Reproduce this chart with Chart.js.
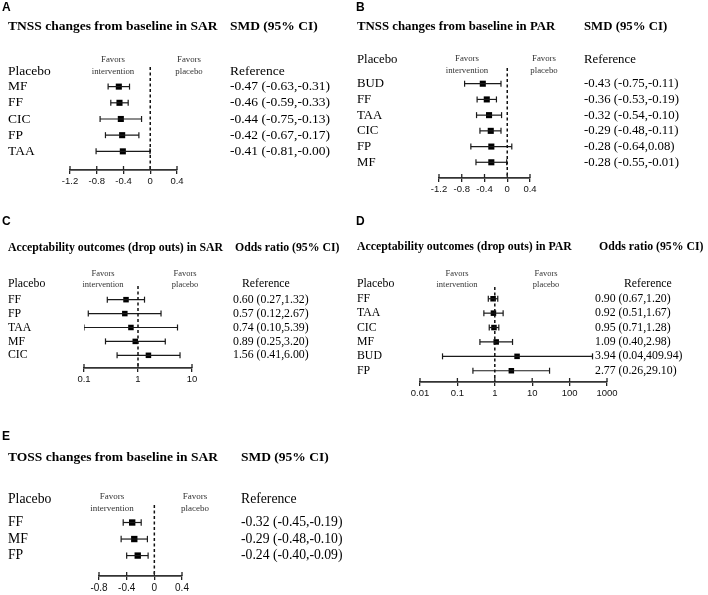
<!DOCTYPE html>
<html>
<head>
<meta charset="utf-8">
<script src="https://cdn.jsdelivr.net/npm/chart.js@4.4.1/dist/chart.umd.min.js"></script>
<style>
  html, body { margin: 0; padding: 0; background: #fff; overflow: hidden; }
  #page { position: relative; width: 708px; height: 595px; overflow: hidden; }
  .panel { position: absolute; }
</style>
</head>
<body>
<div id="page">
  <div class="panel" style="left:0;top:0;width:354px;height:215px"><canvas id="chartA"></canvas></div>
  <div class="panel" style="left:354px;top:0;width:354px;height:215px"><canvas id="chartB"></canvas></div>
  <div class="panel" style="left:0;top:215px;width:354px;height:205px"><canvas id="chartC"></canvas></div>
  <div class="panel" style="left:354px;top:215px;width:354px;height:205px"><canvas id="chartD"></canvas></div>
  <div class="panel" style="left:0;top:420px;width:354px;height:180px"><canvas id="chartE"></canvas></div>
</div>
<script>
// A: TNSS changes in SAR (SMD)
const labelsA = ['MF', 'FF', 'CIC', 'FP', 'TAA'];
const estA = [-0.47, -0.46, -0.44, -0.42, -0.41];
const lowA = [-0.63, -0.59, -0.75, -0.67, -0.81];
const highA = [-0.31, -0.33, -0.13, -0.17, -0.004];
const ticksA = [-1.2, -0.8, -0.4, 0, 0.4];

// B: TNSS changes in PAR (SMD)
const labelsB = ['BUD', 'FF', 'TAA', 'CIC', 'FP', 'MF'];
const estB = [-0.43, -0.36, -0.32, -0.29, -0.28, -0.28];
const lowB = [-0.75, -0.53, -0.54, -0.48, -0.64, -0.55];
const highB = [-0.11, -0.19, -0.10, -0.11, 0.08, -0.01];
const ticksB = [-1.2, -0.8, -0.4, 0, 0.4];

// C: drop outs in SAR (odds ratio)
const labelsC = ['FF', 'FP', 'TAA', 'MF', 'CIC'];
const estC = [0.60, 0.57, 0.74, 0.89, 1.56];
const lowC = [0.27, 0.12, 0.10, 0.25, 0.41];
const highC = [1.32, 2.67, 5.39, 3.20, 6.00];
const ticksC = [0.1, 1, 10];

// D: drop outs in PAR (odds ratio)
const labelsD = ['FF', 'TAA', 'CIC', 'MF', 'BUD', 'FP'];
const estD = [0.90, 0.92, 0.95, 1.09, 3.94, 2.77];
const lowD = [0.67, 0.51, 0.71, 0.40, 0.04, 0.26];
const highD = [1.20, 1.67, 1.28, 2.98, 409.94, 29.10];
const ticksD = [0.01, 0.1, 1, 10, 100, 1000];

// E: TOSS changes in SAR (SMD)
const labelsE = ['FF', 'MF', 'FP'];
const estE = [-0.32, -0.29, -0.24];
const lowE = [-0.45, -0.48, -0.40];
const highE = [-0.19, -0.10, -0.09];
const ticksE = [-0.8, -0.4, 0, 0.4];

const SERIF = '"Liberation Serif", "Times New Roman", serif';
const SANS = '"Liberation Sans", Arial, sans-serif';

function valueText(e, l, h) {
  return e.toFixed(2) + ' (' + l.toFixed(2) + ',' + h.toFixed(2) + ')';
}

function forestPanel(id, p) {
  const W = 354;
  const H = p.height;
  const axisH = 4 + p.tickSize * 1.2 + 2;
  const yMin = -(p.rowTop - p.dashTop) / p.rowStep;
  const yMax = (p.axisY - p.rowTop) / p.rowStep;

  const datasets = [];
  // vertical line of no effect
  datasets.push({
    type: 'line',
    data: [{x: p.ref, y: yMin}, {x: p.ref, y: yMax}],
    borderColor: '#111', borderWidth: 1.5, borderDash: [3, 2.5],
    pointRadius: 0
  });
  // confidence intervals with end caps
  p.labels.forEach((lab, i) => {
    datasets.push({
      type: 'line',
      data: [{x: p.low[i], y: i}, {x: p.high[i], y: i}],
      borderColor: '#1a1a1a', borderWidth: 1.2,
      pointStyle: 'line', pointRotation: 90, pointRadius: p.cap,
      pointBorderWidth: 1.2, pointBorderColor: '#1a1a1a', pointBackgroundColor: '#1a1a1a'
    });
  });
  // point estimates
  datasets.push({
    type: 'scatter',
    data: p.est.map((v, i) => ({x: v, y: i})),
    pointStyle: 'rect', pointRadius: p.box,
    backgroundColor: '#000', borderColor: '#000', borderWidth: 0
  });

  const textPlugin = {
    id: 'text' + id,
    afterDraw(chart) {
      const ctx = chart.ctx;
      const xs = chart.scales.x, ys = chart.scales.y;
      ctx.save();
      // upper half of the axis tick marks
      ctx.strokeStyle = '#222';
      ctx.lineWidth = 1.3;
      xs.ticks.forEach(t => {
        const x = xs.getPixelForValue(t.value);
        ctx.beginPath();
        ctx.moveTo(x, chart.chartArea.bottom - 4);
        ctx.lineTo(x, chart.chartArea.bottom);
        ctx.stroke();
      });

      ctx.textBaseline = 'middle';
      ctx.textAlign = 'left';
      ctx.fillStyle = '#000';
      ctx.font = 'bold 12px ' + SANS;
      ctx.fillText(p.letter, p.letterX, p.letterY);

      ctx.font = 'bold ' + p.titleSize + 'px ' + SERIF;
      ctx.fillText(p.title, p.titleX, p.titleY);
      ctx.fillText(p.stat, p.statX, p.titleY);

      ctx.font = p.size + 'px ' + SERIF;
      ctx.fillText('Placebo', p.titleX, p.placeboY);
      ctx.fillText('Reference', p.refX, p.placeboY);
      p.labels.forEach((lab, i) => {
        const y = ys.getPixelForValue(i);
        ctx.fillText(lab, p.titleX, y);
        ctx.fillText(valueText(p.est[i], p.low[i], p.high[i]), p.valX, y);
      });

      ctx.font = p.favSize + 'px ' + SERIF;
      ctx.fillStyle = '#333';
      ctx.textAlign = 'center';
      ctx.fillText('Favors', p.favIntX, p.favY1);
      ctx.fillText('intervention', p.favIntX, p.favY2);
      ctx.fillText('Favors', p.favPlX, p.favY1);
      ctx.fillText('placebo', p.favPlX, p.favY2);
      ctx.restore();
    }
  };

  return new Chart(document.getElementById(id), {
    type: 'scatter',
    data: {datasets: datasets},
    options: {
      responsive: true,
      maintainAspectRatio: false,
      animation: false,
      events: [],
      layout: {
        padding: {
          left: p.plotLeft,
          right: W - p.plotRight,
          top: p.dashTop,
          bottom: H - p.axisY - axisH
        }
      },
      plugins: {legend: {display: false}, tooltip: {enabled: false}},
      scales: {
        x: {
          type: p.type,
          position: 'bottom',
          min: p.ticks[0],
          max: p.ticks[p.ticks.length - 1],
          afterBuildTicks: scale => { scale.ticks = p.ticks.map(v => ({value: v})); },
          grid: {display: true, drawOnChartArea: false, drawTicks: true, tickLength: 4, color: '#222', lineWidth: 1.3},
          border: {display: true, color: '#333', width: 1.8},
          ticks: {
            autoSkip: false, maxRotation: 0, padding: 2, color: '#111',
            font: {family: SANS, size: p.tickSize},
            callback: v => String(v)
          }
        },
        y: {
          type: 'linear',
          display: false,
          reverse: true,
          min: yMin,
          max: yMax
        }
      }
    },
    plugins: [textPlugin]
  });
}

forestPanel('chartA', {
  height: 215, type: 'linear', ref: 0, ticks: ticksA,
  labels: labelsA, est: estA, low: lowA, high: highA,
  letter: 'A', letterX: 2, letterY: 8,
  title: 'TNSS changes from baseline in SAR', stat: 'SMD (95% CI)',
  titleX: 8, titleY: 27, statX: 230, placeboY: 71, refX: 230, valX: 230,
  favIntX: 113, favPlX: 189, favY1: 60, favY2: 72,
  plotLeft: 70, plotRight: 177, dashTop: 67, rowTop: 87, rowStep: 16.5, axisY: 172,
  titleSize: 13.5, size: 13.5, favSize: 8.8, tickSize: 9.5, box: 4.3, cap: 3
});

forestPanel('chartB', {
  height: 215, type: 'linear', ref: 0, ticks: ticksB,
  labels: labelsB, est: estB, low: lowB, high: highB,
  letter: 'B', letterX: 2, letterY: 8,
  title: 'TNSS changes from baseline in PAR', stat: 'SMD (95% CI)',
  titleX: 3, titleY: 27, statX: 230, placeboY: 60, refX: 230, valX: 230,
  favIntX: 113, favPlX: 190, favY1: 59, favY2: 71,
  plotLeft: 85, plotRight: 176, dashTop: 68, rowTop: 84, rowStep: 16, axisY: 180,
  titleSize: 12.8, size: 12.8, favSize: 8.8, tickSize: 9.5, box: 4.3, cap: 3
});

forestPanel('chartC', {
  height: 205, type: 'logarithmic', ref: 1, ticks: ticksC,
  labels: labelsC, est: estC, low: lowC, high: highC,
  letter: 'C', letterX: 2, letterY: 7,
  title: 'Acceptability outcomes (drop outs) in SAR', stat: 'Odds ratio (95% CI)',
  titleX: 8, titleY: 33, statX: 235, placeboY: 69, refX: 242, valX: 233,
  favIntX: 103, favPlX: 185, favY1: 59, favY2: 70,
  plotLeft: 84, plotRight: 192, dashTop: 71, rowTop: 85, rowStep: 14.25, axisY: 155,
  titleSize: 11.8, size: 11.8, favSize: 8.5, tickSize: 9.5, box: 3.9, cap: 3
});

forestPanel('chartD', {
  height: 205, type: 'logarithmic', ref: 1, ticks: ticksD,
  labels: labelsD, est: estD, low: lowD, high: highD,
  letter: 'D', letterX: 2, letterY: 7,
  title: 'Acceptability outcomes (drop outs) in PAR', stat: 'Odds ratio (95% CI)',
  titleX: 3, titleY: 32, statX: 245, placeboY: 69, refX: 270, valX: 241,
  favIntX: 103, favPlX: 192, favY1: 59, favY2: 70,
  plotLeft: 66, plotRight: 253, dashTop: 72, rowTop: 84, rowStep: 14.7, axisY: 169,
  titleSize: 11.8, size: 11.8, favSize: 8.5, tickSize: 9.5, box: 3.9, cap: 3
});

forestPanel('chartE', {
  height: 180, type: 'linear', ref: 0, ticks: ticksE,
  labels: labelsE, est: estE, low: lowE, high: highE,
  letter: 'E', letterX: 2, letterY: 17,
  title: 'TOSS changes from baseline in SAR', stat: 'SMD (95% CI)',
  titleX: 8, titleY: 38, statX: 241, placeboY: 79, refX: 241, valX: 241,
  favIntX: 112, favPlX: 195, favY1: 77, favY2: 89,
  plotLeft: 99, plotRight: 182, dashTop: 85, rowTop: 103, rowStep: 17, axisY: 158,
  titleSize: 13.5, size: 13.7, favSize: 9, tickSize: 10, box: 4.5, cap: 3.2
});
</script>
</body>
</html>
